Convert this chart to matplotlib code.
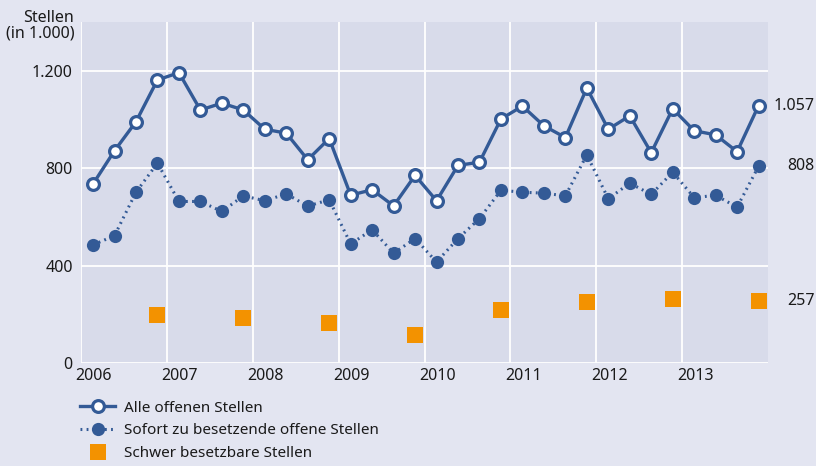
import numpy as np
import matplotlib.pyplot as plt
from matplotlib.ticker import FixedLocator, FixedFormatter

plt.rcParams['font.family'] = ['Noto Sans', 'DejaVu Sans']

years = [2006, 2007, 2008, 2009, 2010, 2011, 2012, 2013]
# quarterly values (in 1.000)
alle = [736, 872, 991, 1162, 1192, 1039, 1067, 1039,
        960, 944, 835, 922, 690, 712, 646, 771,
        667, 812, 825, 1002, 1055, 974, 926, 1129,
        960, 1015, 864, 1044, 954, 937, 868, 1057]
sofort = [486, 524, 702, 821, 664, 664, 623, 687,
          667, 695, 645, 671, 490, 548, 452, 512,
          416, 512, 594, 710, 702, 698, 687, 855,
          675, 739, 693, 784, 680, 689, 641, 808]
schwer = [199, 187, 166, 117, 221, 252, 265, 257]
labels_right = ["1.057", "808", "257"]

blue = '#335a96'
orange = '#f39200'
bg_fig = '#e3e5f1'
bg_ax = '#d8dbea'
txt = '#1a1a1a'

x_q = np.array([y + 0.14 + 0.25 * q for y in years for q in range(4)])
x_s = np.array([y + 0.14 + 0.75 for y in years])

fig = plt.figure(figsize=(8.16, 4.66), dpi=100, facecolor=bg_fig)
ax = fig.add_axes([0.0993, 0.22, 0.8419, 0.733])
ax.set_facecolor(bg_ax)

ax.plot(x_q, alle, color=blue, lw=2.4, marker='o', ms=8.5, mfc='white',
        mec=blue, mew=2.3, label='Alle offenen Stellen', zorder=4)
ax.plot(x_q, sofort, color=blue, lw=2.2, ls=(0, (0.6, 1.4)), marker='o', ms=9.5,
        mfc=blue, mec=blue, mew=0, label='Sofort zu besetzende offene Stellen', zorder=3)
ax.plot(x_s, schwer, ls='none', marker='s', ms=11.5, color=orange, mew=0,
        label='Schwer besetzbare Stellen', zorder=3)

ax.set_xlim(2006, 2014)
ax.set_ylim(0, 1400)

ax.xaxis.set_major_locator(FixedLocator(years))
ax.xaxis.set_major_formatter(FixedFormatter([''] * len(years)))
ax.xaxis.set_minor_locator(FixedLocator([y + 0.15 for y in years]))
ax.xaxis.set_minor_formatter(FixedFormatter([str(y) for y in years]))
ax.set_yticks([0, 400, 800, 1200])
ax.set_yticklabels(['0', '400', '800', '1.200'])
ax.tick_params(axis='both', which='both', length=0, labelsize=11.5, colors=txt)
ax.tick_params(axis='x', which='minor', pad=3)
ax.tick_params(axis='y', pad=6)

ax.grid(True, which='major', color='white', lw=1.3)
ax.set_axisbelow(True)
for s in ax.spines.values():
    s.set_visible(False)

fig.text(0.091, 0.91, 'Stellen\n(in 1.000)', ha='right', va='bottom',
         fontsize=11.5, color=txt, linespacing=1.0)

for val, lab in zip([alle[-1], sofort[-1], schwer[-1]], labels_right):
    ax.annotate(lab, xy=(2014, val), xycoords='data', xytext=(0.998, 0),
                textcoords=('figure fraction', 'offset points'),
                ha='right', va='center', fontsize=11.5, color=txt)

fig.legend(loc='upper left', bbox_to_anchor=(0.098, 0.14), frameon=False,
           fontsize=11, handlelength=2.3, handletextpad=0.6, labelspacing=0.5,
           borderaxespad=0, borderpad=0, labelcolor=txt)

fig.savefig('out.png', dpi=100, facecolor=bg_fig)
